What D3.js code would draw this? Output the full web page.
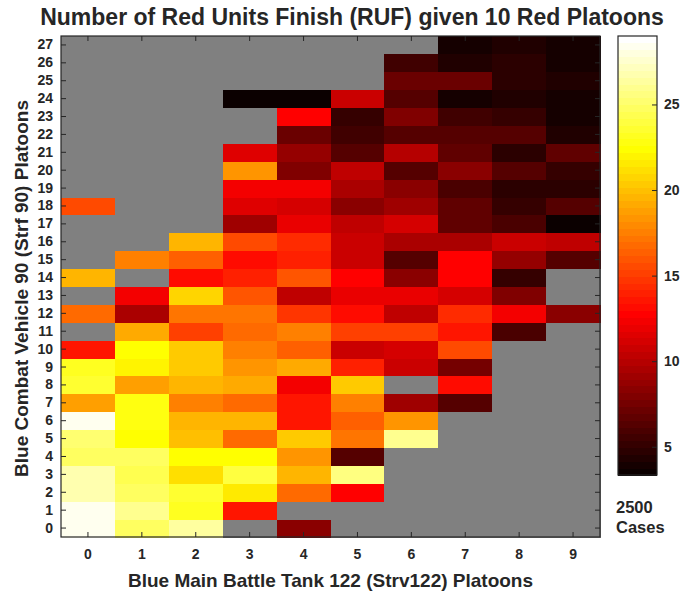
<!DOCTYPE html>
<html><head><meta charset="utf-8">
<script src="https://cdn.jsdelivr.net/npm/d3@7"></script>
<style>
body{margin:0;background:#fff;}
text{font-family:"Liberation Sans",Arial,Helvetica,sans-serif;font-weight:bold;fill:#262626;}
</style>
</head><body><svg id="c" width="682" height="597"></svg>
<script>
// ---- data ----
const titleText = "Number of Red Units Finish (RUF) given 10 Red Platoons";
const xLabelText = "Blue Main Battle Tank 122 (Strv122) Platoons";
const yLabelText = "Blue Combat Vehicle 90 (Strf 90) Platoons";
const tankPlatoons = [0,1,2,3,4,5,6,7,8,9];          // columns
const cv90Platoons = d3.range(0,28);                  // rows 0..27
const colorbarTicks = [5,10,15,20,25];
const colorMin = 3.35, colorMax = 29;
const casesLabel = ["2500","Cases"];
const n = null;
// values[row] = values for columns 0..9 (null = no data)
const row0  = [28.4,24.7,26.4,n,8.4,n,n,n,n,n];
const row1  = [28.2,25.9,23.1,13.7,n,n,n,n,n,n];
const row2  = [26.7,24.9,23.4,21.4,16.9,12.8,n,n,n,n];
const row3  = [26.9,24.4,21.1,23.9,19.4,25.7,n,n,n,n];
const row4  = [24.9,24.7,22.4,22.4,18.4,6.2,n,n,n,n];
const row5  = [25.2,22.4,19.9,16.7,20.3,17.3,25.9,n,n,n];
const row6  = [28.2,22.9,19.7,19.4,13.7,16.5,18.4,n,n,n];
const row7  = [18.8,22.6,17.5,16.7,13.7,17.7,9.2,6.2,n,n];
const row8  = [23.6,18.8,19.7,19.2,12.4,20.3,n,13.3,n,n];
const row9  = [23.1,21.8,20.3,18.2,19.2,14.1,10.9,7.7,n,n];
const row10 = [13.7,22.4,20.3,17.7,16.4,10.7,11.1,15.6,n,n];
const row11 = [n,19.2,15.2,16.9,17.5,15.0,15.0,13.7,5.8,n];
const row12 = [16.7,9.75,17.1,17.1,14.8,13.3,10.5,14.3,12.4,8.4];
const row13 = [n,12.4,20.7,15.8,10.3,12.0,12.0,11.3,7.9,n];
const row14 = [19.4,n,13.3,13.9,15.8,12.8,8.2,12.8,5.0,n];
const row15 = [n,17.7,16.4,13.3,13.9,10.9,6.5,12.8,8.6,6.4];
const row16 = [n,n,19.4,15.6,14.3,10.9,9.6,9.6,10.9,10.3];
const row17 = [n,n,n,9.2,11.8,10.5,11.3,6.7,5.8,3.7];
const row18 = [15.6,n,n,11.6,11.3,8.4,9.2,6.7,5.0,6.4];
const row19 = [n,n,n,12.4,12.4,9.75,8.4,6.0,4.7,4.85];
const row20 = [n,n,n,18.2,7.9,10.5,6.2,8.4,6.4,5.0];
const row21 = [n,n,n,11.45,8.8,6.5,9.9,6.9,4.7,6.9];
const row22 = [n,n,n,n,7.1,5.6,6.4,6.4,6.4,4.5];
const row23 = [n,n,n,n,12.8,5.0,7.9,5.6,5.2,3.9];
const row24 = [n,n,n,3.5,3.5,10.9,6.4,3.9,4.3,3.9];
const row25 = [n,n,n,n,n,n,7.3,7.3,4.7,4.3];
const row26 = [n,n,n,n,n,n,5.4,4.3,4.7,3.9];
const row27 = [n,n,n,n,n,n,n,3.9,4.3,3.9];
const values = [row0,row1,row2,row3,row4,row5,row6,row7,row8,row9,row10,row11,row12,row13,
  row14,row15,row16,row17,row18,row19,row20,row21,row22,row23,row24,row25,row26,row27];

// ---- chart ----
const svg = d3.select("#c");
const P = {l:61, r:600, t:36, b:537};
const CB = {l:618, r:657, t:36, b:475};
const axisColor = "#262626";
const nanColor = "rgb(128,128,128)";

function hot(v){
  let i = Math.floor((v-colorMin)/(colorMax-colorMin)*64)+1;
  i = Math.max(1, Math.min(64, i));
  const c = t => Math.max(0, Math.min(1, t));
  const r = c(i/24), g = c((i-24)/24), b = c((i-48)/16);
  return d3.rgb(Math.round(r*255), Math.round(g*255), Math.round(b*255)).toString();
}

const xs = d3.scaleBand().domain(tankPlatoons).range([P.l, P.r]);
const ys = d3.scaleBand().domain(cv90Platoons).range([P.b, P.t]);

const cells = [];
values.forEach((row, ri) => row.forEach((v, ci) => cells.push({r: cv90Platoons[ri], c: tankPlatoons[ci], v})));

svg.append("g").selectAll("rect").data(cells).join("rect")
  .attr("x", d => xs(d.c)).attr("y", d => ys(d.r))
  .attr("width", xs.bandwidth()+0.5).attr("height", ys.bandwidth()+0.5)
  .attr("fill", d => d.v == null ? nanColor : hot(d.v))
  .attr("shape-rendering", "crispEdges");

// axes
const axG = svg.append("g");
const axLeft = axG.append("g").attr("transform", `translate(${P.l},0)`)
  .call(d3.axisLeft(ys).tickSizeInner(-5).tickSizeOuter(0).tickPadding(8));
const axRight = axG.append("g").attr("transform", `translate(${P.r},0)`)
  .call(d3.axisRight(ys).tickSizeInner(-5).tickSizeOuter(0).tickFormat(""));
const axBottom = axG.append("g").attr("transform", `translate(0,${P.b})`)
  .call(d3.axisBottom(xs).tickSizeInner(-5).tickSizeOuter(0).tickPadding(12));
const axTop = axG.append("g").attr("transform", `translate(0,${P.t})`)
  .call(d3.axisTop(xs).tickSizeInner(-5).tickSizeOuter(0).tickFormat(""));
axG.selectAll(".domain").remove();
axG.selectAll(".tick line").attr("stroke", axisColor).attr("stroke-width", 1);
axG.selectAll(".tick text").attr("font-size", 14).attr("font-family", null).attr("fill", axisColor);

svg.append("rect").attr("x", P.l).attr("y", P.t).attr("width", P.r-P.l).attr("height", P.b-P.t)
  .attr("fill", "none").attr("stroke", axisColor).attr("stroke-width", 1.2);

// title & labels
svg.append("text").attr("x", 352).attr("y", 25).attr("text-anchor", "middle")
  .attr("font-size", 23).text(titleText);
svg.append("text").attr("x", (P.l+P.r)/2).attr("y", 587).attr("text-anchor", "middle")
  .attr("font-size", 19).text(xLabelText);
svg.append("text").attr("transform", `translate(28,${(P.t+P.b)/2 + 2}) rotate(-90)`)
  .attr("text-anchor", "middle").attr("font-size", 19).text(yLabelText);

// colorbar
const cy = d3.scaleLinear().domain([colorMin, colorMax]).range([CB.b, CB.t]);
const stepH = (colorMax-colorMin)/64;
const steps = d3.range(64).map(k => colorMin + (k+0.5)*stepH);
svg.append("g").selectAll("rect").data(steps).join("rect")
  .attr("x", CB.l).attr("width", CB.r-CB.l)
  .attr("y", d => cy(d+stepH/2)).attr("height", d => cy(d-stepH/2)-cy(d+stepH/2)+0.6)
  .attr("fill", d => hot(d)).attr("shape-rendering", "crispEdges");
const cbAxis = svg.append("g").attr("transform", `translate(${CB.r},0)`)
  .call(d3.axisRight(cy).tickValues(colorbarTicks).tickSizeInner(-5).tickSizeOuter(0).tickPadding(7));
cbAxis.select(".domain").remove();
cbAxis.selectAll(".tick line").attr("stroke", axisColor);
cbAxis.selectAll(".tick text").attr("font-size", 14).attr("font-family", null).attr("fill", axisColor);
svg.append("rect").attr("x", CB.l).attr("y", CB.t).attr("width", CB.r-CB.l).attr("height", CB.b-CB.t)
  .attr("fill", "none").attr("stroke", axisColor).attr("stroke-width", 1.2);

svg.append("text").attr("x", 616).attr("y", 513).attr("font-size", 16.5).text(casesLabel[0]);
svg.append("text").attr("x", 616).attr("y", 532.5).attr("font-size", 16.5).text(casesLabel[1]);
</script>
</body></html>
